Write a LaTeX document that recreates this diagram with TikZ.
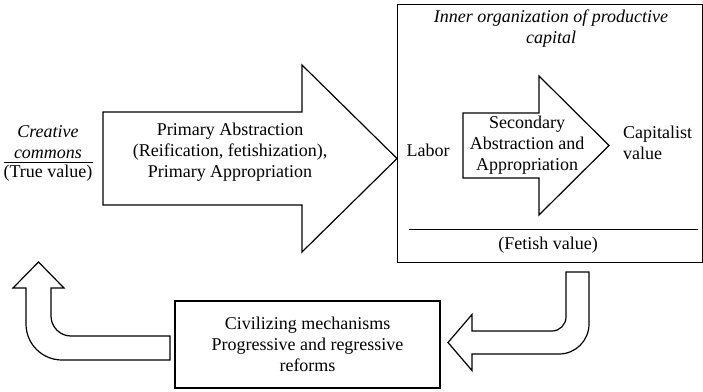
\documentclass[tikz,border=0pt]{standalone}
\usepackage{fontspec}
\setmainfont{Liberation Serif}
\usetikzlibrary{positioning}
\tikzset{
    value diagram/.style={
            x=1pt,y=-1pt,
            outline/.style={draw,line width=1.2pt,line join=miter},
            words/.style={font=\fontsize{18}{21}\selectfont,align=center,inner sep=0pt},
            slanted words/.style={words,font=\itshape\fontsize{18}{21}\selectfont}
        }
    }
\begin{document}
\begin{tikzpicture}[value diagram]
    \useasboundingbox (0,0) rectangle (703,391);
    % left side: commons
    \node[slanted words] (commons) at (48,142.5) {Creative\\commons};
    \node[words] (truevalue) at (48,173) {(True value)};
    \draw[line width=0.9pt] (4,162) -- (93,162);
    % primary arrow
    \draw[outline] (103,112) -- (302,112) -- (302,65) -- (397,158.5) -- (302,252)
        -- (302,205) -- (103,205) -- cycle;
    \node[words] (primary) at (230,152) {Primary Abstraction\\(Reification, fetishization),\\Primary Appropriation};
    % productive capital
    \node[outline,minimum width=305pt,minimum height=258pt,anchor=north west] (capital) at (397,4) {};
    \node[slanted words] (inner) at (551,28.5) {Inner organization of productive\\capital};
    \node[words] (labor) at (428,150) {Labor};
    \draw[outline] (463,113) -- (539,113) -- (539,76) -- (609,145.5) -- (539,215)
        -- (539,178) -- (463,178) -- cycle;
    \node[words] (secondary) at (527,145) {Secondary\\Abstraction and\\Appropriation};
    \node[words,align=left,anchor=west] (capvalue) at (623,143) {Capitalist\\value};
    \draw[line width=0.9pt] (409,229) -- (698,229);
    \node[words] (fetish) at (548,245) {(Fetish value)};
    % reforms
    \node[outline,words,minimum width=265pt,minimum height=87pt] (reforms) at (307.5,344.5)
        {Civilizing mechanisms\\Progressive and regressive\\reforms};
    % bent arrows
    \draw[outline] (566,272) -- (589,272) -- (589,324)
        .. controls (589,340.6) and (575.6,354) .. (559,354)
        -- (472,354) -- (472,370.5) -- (448,342.5) -- (472,314.5) -- (472,331)
        -- (552,331) .. controls (559.7,331) and (566,324.7) .. (566,317) -- cycle;
    \draw[outline] (170,336) -- (71,336) .. controls (60,336) and (51,327) .. (51,316)
        -- (51,288) -- (64,288) -- (38.5,262) -- (13,288) -- (26,288) -- (26,324)
        .. controls (26,343.9) and (42.1,360) .. (62,360) -- (170,360) -- cycle;
\end{tikzpicture}
\end{document}
